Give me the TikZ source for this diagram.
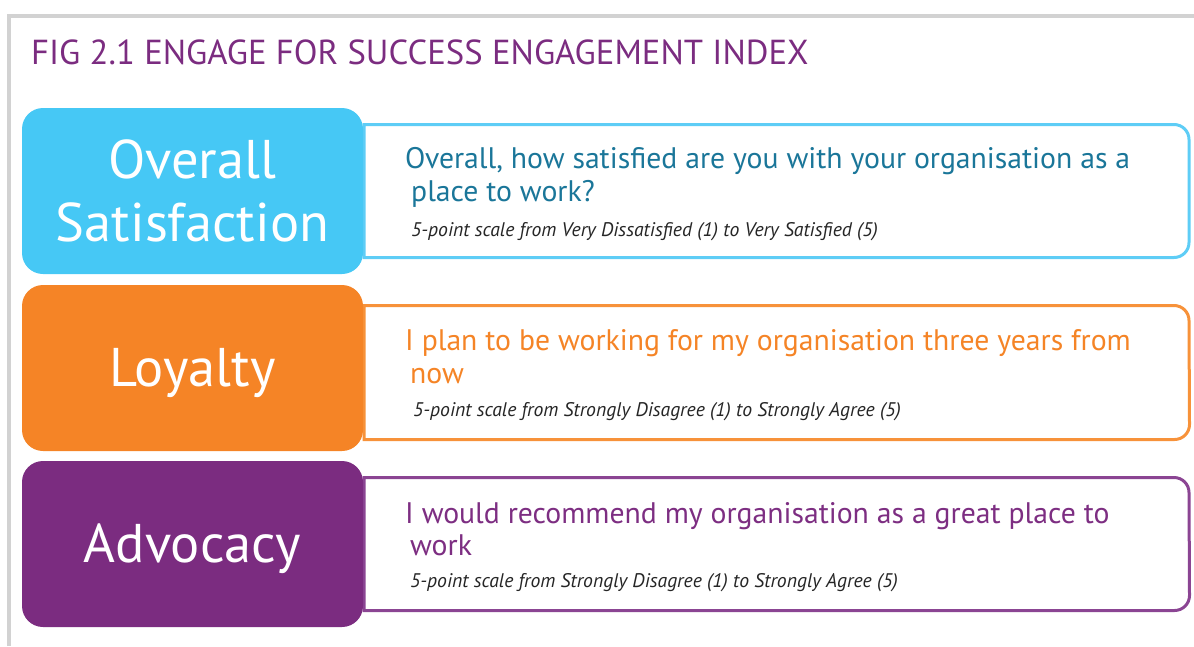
\documentclass[tikz,border=0pt]{standalone}
\usepackage{fontspec}
\setmainfont{PT Sans}
\definecolor{framegray}{HTML}{D2D2D2}
\definecolor{titlepurple}{HTML}{7B2C80}
\definecolor{satfill}{HTML}{46C8F5}
\definecolor{satline}{HTML}{5ECDF6}
\definecolor{sattext}{HTML}{1A7699}
\definecolor{loyfill}{HTML}{F58426}
\definecolor{loyline}{HTML}{F7923A}
\definecolor{loytext}{HTML}{F58426}
\definecolor{advfill}{HTML}{7B2C80}
\definecolor{advline}{HTML}{8B4593}
\definecolor{advtext}{HTML}{7D2E82}
\begin{document}
\begin{tikzpicture}[x=1pt,y=1pt,
  catbox/.style={rectangle,rounded corners=21pt,minimum width=341pt,minimum height=166pt,inner sep=0pt,draw=none},
  cattext/.style={anchor=base,text=white,font=\fontsize{54.5}{56}\selectfont,inner sep=0pt},
  qline/.style={anchor=base west,font=\fontsize{29.7}{31}\selectfont,inner sep=0pt},
  scaleline/.style={anchor=base west,font=\fontsize{19.7}{21}\selectfont\itshape,text=black!85,inner sep=0pt},
  qframe/.style={line width=3pt,fill=white}]
\useasboundingbox (0,0) rectangle (1194,-646);
% outer frame (open to the right and bottom)
\draw[framegray,line width=3.5pt] (9,-646) -- (9,-16) -- (1194,-16);
\node[anchor=base west,inner sep=0pt,text=titlepurple,font=\fontsize{34.7}{36}\selectfont] (title) at (31,-64) {FIG 2.1 ENGAGE FOR SUCCESS ENGAGEMENT INDEX};

% --- Overall Satisfaction ---
\draw[qframe,draw=satline] (364,-124.5) -- (1174,-124.5) arc[start angle=90,end angle=0,radius=15] -- (1189,-242.5) arc[start angle=0,end angle=-90,radius=15] -- (364,-257.5) -- cycle;
\node[catbox,fill=satfill] (c1) at (192.5,-191) {};
\node[cattext] (c1a) at (192.5,-178) {Overall};
\node[cattext] (c1b) at (192.5,-241) {Satisfaction};
\node[qline,text=sattext] (q1a) at (405,-168) {Overall, how satisfied are you with your organisation as a};
\node[qline,text=sattext] (q1b) at (411,-201) {place to work?};
\node[scaleline] (s1) at (411,-236) {5-point scale from Very Dissatisfied (1) to Very Satisfied (5)};

% --- Loyalty ---
\draw[qframe,draw=loyline] (364,-305.5) -- (1174,-305.5) arc[start angle=90,end angle=0,radius=15] -- (1189.5,-424.5) arc[start angle=0,end angle=-90,radius=15] -- (364,-439.5) -- cycle;
\node[catbox,fill=loyfill] (c2) at (192.5,-368) {};
\node[cattext] (c2a) at (192.5,-386) {Loyalty};
\node[qline,text=loytext] (q2a) at (405,-350) {I plan to be working for my organisation three years from};
\node[qline,text=loytext] (q2b) at (410,-383) {now};
\node[scaleline] (s2) at (413,-416) {5-point scale from Strongly Disagree (1) to Strongly Agree (5)};

% --- Advocacy ---
\draw[qframe,draw=advline] (364,-477.5) -- (1174,-477.5) arc[start angle=90,end angle=0,radius=15] -- (1189.5,-595.5) arc[start angle=0,end angle=-90,radius=15] -- (364,-610.5) -- cycle;
\node[catbox,fill=advfill] (c3) at (192.5,-544) {};
\node[cattext] (c3a) at (192.5,-562) {Advocacy};
\node[qline,text=advtext] (q3a) at (405,-523) {I would recommend my organisation as a great place to};
\node[qline,text=advtext] (q3b) at (410,-555) {work};
\node[scaleline] (s3) at (410,-587) {5-point scale from Strongly Disagree (1) to Strongly Agree (5)};
\end{tikzpicture}
\end{document}
